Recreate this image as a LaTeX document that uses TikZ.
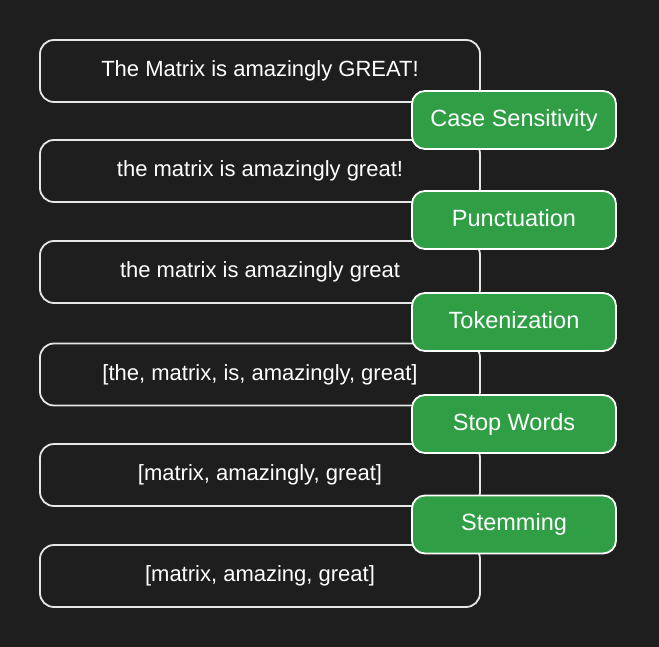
\documentclass[tikz,border=0pt]{standalone}
\usepackage{fontspec}
\setmainfont{Liberation Sans}
\definecolor{bg}{HTML}{1E1E1E}
\definecolor{gr}{HTML}{2F9E44}
\definecolor{st}{HTML}{E6E6E6}
\begin{document}
\begin{tikzpicture}[x=1bp,y=-1bp,
  textbox/.style={draw=st, line width=1.8bp, rounded corners=14bp,
    minimum width=440bp, minimum height=62bp, inner sep=0pt,
    text=white, font=\fontsize{22bp}{26bp}\selectfont,
    text height=16bp, text depth=4.6bp},
  stepbox/.style={draw=white, fill=gr, line width=1.8bp, rounded corners=13bp,
    minimum width=204bp, minimum height=58bp, inner sep=0pt,
    text=white, font=\fontsize{23.5bp}{28bp}\selectfont,
    text height=17bp, text depth=4.9bp}]
\fill[bg] (0,0) rectangle (659,647);
\useasboundingbox (0,0) rectangle (659,647);
\node[textbox] (t1) at (260,71) {The Matrix is amazingly GREAT!};
\node[textbox] (t2) at (260,171) {the matrix is amazingly great!};
\node[textbox] (t3) at (260,272) {the matrix is amazingly great};
\node[textbox] (t4) at (260,374.5) {[the, matrix, is, amazingly, great]};
\node[textbox] (t5) at (260,475) {[matrix, amazingly, great]};
\node[textbox] (t6) at (260,576) {[matrix, amazing, great]};
\node[stepbox] (s1) at (514,120) {Case Sensitivity};
\node[stepbox] (s2) at (514,220) {Punctuation};
\node[stepbox] (s3) at (514,322) {Tokenization};
\node[stepbox] (s4) at (514,424) {Stop Words};
\node[stepbox] (s5) at (514,524.5) {Stemming};
\end{tikzpicture}
\end{document}
